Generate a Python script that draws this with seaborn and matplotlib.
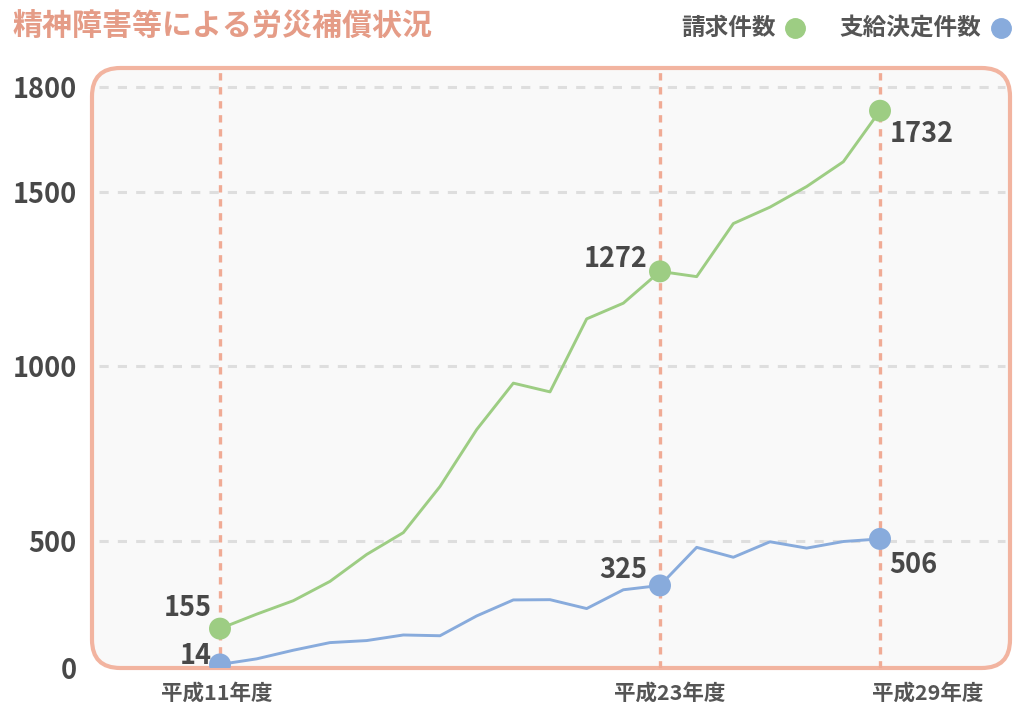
import numpy as np
import pandas as pd
import matplotlib
matplotlib.use("Agg")
import matplotlib.pyplot as plt
from matplotlib.patches import FancyBboxPatch
import seaborn as sns

# ---- data ----
years = list(range(11, 30))  # 平成11年度 .. 平成29年度
claims = [155, 212, 265, 341, 447, 524, 656, 819, 952, 927, 1136, 1181, 1272,
          1257, 1409, 1456, 1515, 1586, 1732]          # 請求件数
approved = [14, 36, 70, 100, 108, 130, 127, 205, 268, 269, 234, 308, 325,
            475, 436, 497, 472, 498, 506]               # 支給決定件数
series_names = ["請求件数", "支給決定件数"]
highlight_years = [11, 23, 29]
x_tick_labels = ["平成11年度", "平成23年度", "平成29年度"]
y_ticks = [0, 500, 1000, 1500, 1800]
title = "精神障害等による労災補償状況"

GREEN = "#9dcd83"
BLUE = "#88abdc"
SALMON = "#f0ab95"
TXT = "#484848"

sns.set_theme(style="white")
plt.rcParams["font.family"] = ["Noto Sans CJK JP", "DejaVu Sans"]

df = pd.DataFrame({
    "year": years * 2,
    "value": claims + approved,
    "series": [series_names[0]] * len(years) + [series_names[1]] * len(years),
})
hl = df[df["year"].isin(highlight_years)]

W, H = 1013, 702
fig = plt.figure(figsize=(W / 100, H / 100), dpi=100)
fig.patch.set_facecolor("white")

ax_l, ax_r, ax_t, ax_b = 92, 1010, 68, 668
ax = fig.add_axes([ax_l / W, (H - ax_b) / H, (ax_r - ax_l) / W, (ax_b - ax_t) / H])
ax.set_facecolor("none")
ax.set_zorder(2)

# rounded frame behind the axes
frame = FancyBboxPatch((ax_l / W, (H - ax_b) / H), (ax_r - ax_l) / W, (ax_b - ax_t) / H,
                       boxstyle="round,pad=0,rounding_size=0.028",
                       transform=fig.transFigure, facecolor="#f9f9f9",
                       edgecolor="#f2b4a0", linewidth=3, zorder=0,
                       mutation_aspect=W / H)
fig.patches.append(frame)

# piecewise-linear value scale (as in the reference)
vals = [-2000, 0, 500, 1800, 6000]
px = [-2000 * 127 / 500, 0, 127, 581, 581 + 4200 * 0.3492]
fwd = lambda v: np.interp(v, vals, px)
inv = lambda p: np.interp(p, px, vals)
ax.set_yscale("function", functions=(fwd, inv))
ax.set_ylim(0, 1800 + 19 / 0.3492)

x_per_px = 1 / 36.67
ax.set_xlim(11 - 128 * x_per_px, 29 + 130 * x_per_px)

# grid lines
for v in y_ticks[1:]:
    ax.axhline(v, xmin=0.008, xmax=0.995, color="#dedede", lw=2.2,
               dashes=(3, 3), zorder=1)
for yv in highlight_years:
    ax.axvline(yv, ymin=0.0, ymax=0.997, color=SALMON, lw=2.4,
               dashes=(2.2, 2.0), zorder=1)

palette = {series_names[0]: GREEN, series_names[1]: BLUE}
sns.lineplot(data=df, x="year", y="value", hue="series", palette=palette,
             lw=2.1, ax=ax, legend=False, zorder=3)
sns.scatterplot(data=hl, x="year", y="value", hue="series", palette=palette,
                s=250, linewidth=0, ax=ax, legend=False, zorder=4)

ax.set_xlabel("")
ax.set_ylabel("")
for s in ax.spines.values():
    s.set_visible(False)
ax.set_yticks(y_ticks)
ax.set_yticklabels([str(v) for v in y_ticks], fontsize=19.5, fontweight="bold", color=TXT)
ax.tick_params(axis="y", length=0, pad=11)
ax.set_xticks([])

# x labels
lab_kw = dict(fontsize=15.5, fontweight="bold", color="#555555",
              textcoords="offset points", annotation_clip=False)
ax.annotate(x_tick_labels[0], xy=(highlight_years[0], 0), xytext=(-2, -18),
            ha="center", va="center", **lab_kw)
ax.annotate(x_tick_labels[1], xy=(highlight_years[1], 0), xytext=(7, -18),
            ha="center", va="center", **lab_kw)
ax.annotate(x_tick_labels[2], xy=(highlight_years[2], 0), xytext=(-6, -18),
            ha="left", va="center", **lab_kw)

# value labels
vkw = dict(fontsize=19.5, fontweight="bold", color=TXT, textcoords="offset points",
           va="center")
i11, i23, i29 = years.index(11), years.index(23), years.index(29)
ax.annotate(str(claims[i11]), xy=(11, claims[i11]), xytext=(-6, 15), ha="right", **vkw)
ax.annotate(str(approved[i11]), xy=(11, approved[i11]), xytext=(-6, 6), ha="right", **vkw)
ax.annotate(str(claims[i23]), xy=(23, claims[i23]), xytext=(-9, 9), ha="right", **vkw)
ax.annotate(str(approved[i23]), xy=(23, approved[i23]), xytext=(-9, 11), ha="right", **vkw)
ax.annotate(str(claims[i29]), xy=(29, claims[i29]), xytext=(7, -17), ha="left", **vkw)
ax.annotate(str(approved[i29]), xy=(29, approved[i29]), xytext=(7, -19), ha="left", **vkw)

# title
fig.text(12 / W, 1 - 26 / H, title, fontsize=21.6, fontweight="bold",
         color="#e59c87", ha="left", va="center")

# legend
fig.text(776 / W, 1 - 28 / H, series_names[0], fontsize=17, fontweight="bold",
         color="#555555", ha="right", va="center")
fig.text(981 / W, 1 - 28 / H, series_names[1], fontsize=17, fontweight="bold",
         color="#555555", ha="right", va="center")
fig.add_artist(plt.Line2D([795 / W], [1 - 28 / H], marker="o", markersize=14,
                          color=GREEN, linestyle="none", transform=fig.transFigure))
fig.add_artist(plt.Line2D([1001 / W], [1 - 28 / H], marker="o", markersize=14,
                          color=BLUE, linestyle="none", transform=fig.transFigure))

fig.savefig("out.png", dpi=100)
